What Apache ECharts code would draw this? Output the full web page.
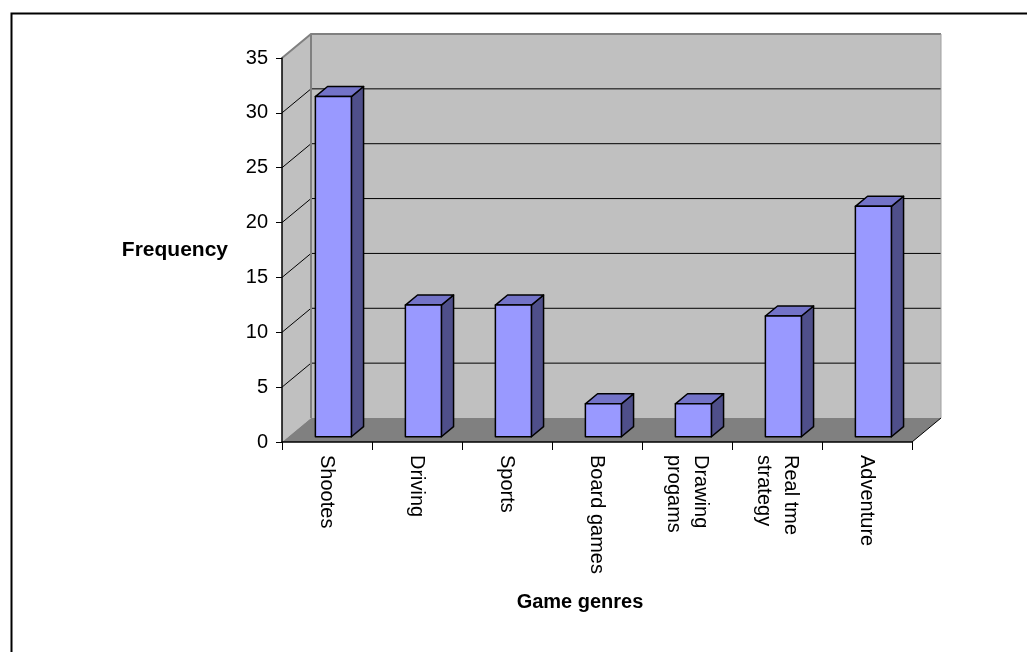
<!DOCTYPE html>
<html>
<head>
<meta charset="utf-8">
<script src="https://cdn.jsdelivr.net/npm/echarts@6/dist/echarts.min.js"></script>
<style>
    html, body { margin: 0; padding: 0; background: #fff; }
    #chart { width: 1027px; height: 652px; }
</style>
</head>
<body>
<div id="chart"></div>
<script>
    // data
    const categories = ['Shootes', 'Driving', 'Sports', 'Board games', 'Drawing\nprogams', 'Real tme\nstrategy', 'Adventure'];
    const frequency = [31, 12, 12, 3, 3, 11, 21];
    const yTicks = [0, 5, 10, 15, 20, 25, 30, 35];

    // 3d look: depth of the box in pixels
    const DX = 29, DY = -24;
    const BAR_FRONT = 0.22, BAR_BACK = 0.64;

    const chart = echarts.init(document.getElementById('chart'));

    function renderWalls(params, api) {
        if (params.dataIndex !== 0) return;
        const cs = params.coordSys;
        const x = cs.x, y = cs.y, w = cs.width, h = cs.height;
        const kids = [];
        // back wall
        kids.push({ type: 'rect', shape: { x: x + DX, y: y + DY, width: w, height: h }, style: { fill: '#C0C0C0' } });
        // side wall
        kids.push({ type: 'polygon', shape: { points: [[x, y], [x + DX, y + DY], [x + DX, y + h + DY], [x, y + h]] }, style: { fill: '#C0C0C0' } });
        // floor
        kids.push({ type: 'polygon', shape: { points: [[x, y + h], [x + DX, y + h + DY], [x + w + DX, y + h + DY], [x + w, y + h]] }, style: { fill: '#808080' } });
        // grid lines on side + back wall
        const top = yTicks[yTicks.length - 1];
        yTicks.forEach(function (t) {
            if (t === 0) return;
            const py = api.coord([0, t])[1];
            kids.push({
                type: 'polyline',
                shape: { points: [[x, py], [x + DX, py + DY], [x + w + DX, py + DY]] },
                style: { stroke: t === top ? '#808080' : '#000', lineWidth: t === top ? 2 : 1, fill: null }
            });
        });
        // back wall edges
        kids.push({ type: 'line', shape: { x1: x + DX, y1: y + DY, x2: x + DX, y2: y + h + DY }, style: { stroke: '#808080', lineWidth: 2 } });
        kids.push({ type: 'line', shape: { x1: x + w + DX, y1: y + DY, x2: x + w + DX, y2: y + h + DY }, style: { stroke: '#A0A0A0', lineWidth: 1 } });
        // floor right edge
        kids.push({ type: 'line', shape: { x1: x + w, y1: y + h, x2: x + w + DX, y2: y + h + DY }, style: { stroke: '#000', lineWidth: 1 } });
        return { type: 'group', children: kids };
    }

    function renderBar(params, api) {
        const c = api.value(0), v = api.value(1);
        const base = api.coord([c, 0]);
        const tp = api.coord([c, v]);
        const bw = api.size([1, 0])[0] * 0.4;
        const x0 = base[0] - bw / 2 + DX * BAR_FRONT, x1 = x0 + bw;
        const yb = base[1] + DY * BAR_FRONT, yt = tp[1] + DY * BAR_FRONT;
        const ddx = DX * (BAR_BACK - BAR_FRONT), ddy = DY * (BAR_BACK - BAR_FRONT);
        const stroke = { stroke: '#000', lineWidth: 1.5, lineJoin: 'round' };
        return {
            type: 'group',
            children: [
                { type: 'polygon', shape: { points: [[x1, yt], [x1 + ddx, yt + ddy], [x1 + ddx, yb + ddy], [x1, yb]] }, style: Object.assign({ fill: '#4F4F8A' }, stroke) },
                { type: 'polygon', shape: { points: [[x0, yt], [x0 + ddx, yt + ddy], [x1 + ddx, yt + ddy], [x1, yt]] }, style: Object.assign({ fill: '#7373C8' }, stroke) },
                { type: 'polygon', shape: { points: [[x0, yt], [x1, yt], [x1, yb], [x0, yb]] }, style: Object.assign({ fill: '#9999FF' }, stroke) }
            ]
        };
    }

    chart.setOption({
        backgroundColor: '#fff',
        animation: false,
        textStyle: { fontFamily: 'Liberation Sans, Arial, sans-serif' },
        grid: { left: 282, right: 115, top: 58, bottom: 210 },
        graphic: [{
            type: 'rect', left: 9, top: 11, z: 100,
            shape: { width: 1040, height: 700 },
            style: { fill: null, stroke: '#000', lineWidth: 2 }
        }],
        xAxis: {
            type: 'category',
            data: categories,
            z: 10,
            name: 'Game genres',
            nameLocation: 'middle',
            nameGap: 150,
            nameTextStyle: { fontSize: 20, fontWeight: 'bold', color: '#000', padding: [0, 34, 0, 0] },
            axisLine: { lineStyle: { color: '#000', width: 1.5 } },
            axisTick: { show: true, length: 8, lineStyle: { color: '#000' } },
            axisLabel: { rotate: -90, fontSize: 20, color: '#000', margin: 13, lineHeight: 27, interval: 0 },
            splitLine: { show: false }
        },
        yAxis: {
            type: 'value',
            min: 0, max: 35, interval: 5,
            z: 10,
            name: 'Frequency',
            nameLocation: 'middle',
            nameRotate: 0,
            nameGap: 54,
            nameTextStyle: { fontSize: 21, fontWeight: 'bold', color: '#000', align: 'right', verticalAlign: 'middle' },
            axisLine: { show: true, lineStyle: { color: '#000', width: 1.5 } },
            axisTick: { show: true, length: 6, lineStyle: { color: '#000' } },
            axisLabel: { fontSize: 20, color: '#000', margin: 14 },
            splitLine: { show: false }
        },
        series: [
            {
                type: 'custom',
                name: 'walls',
                z: 1,
                silent: true,
                renderItem: renderWalls,
                data: [[0, 0]]
            },
            {
                type: 'custom',
                name: 'Frequency',
                z: 3,
                renderItem: renderBar,
                encode: { x: 0, y: 1 },
                data: categories.map(function (c, i) { return [i, frequency[i]]; })
            }
        ]
    });
</script>
</body>
</html>
